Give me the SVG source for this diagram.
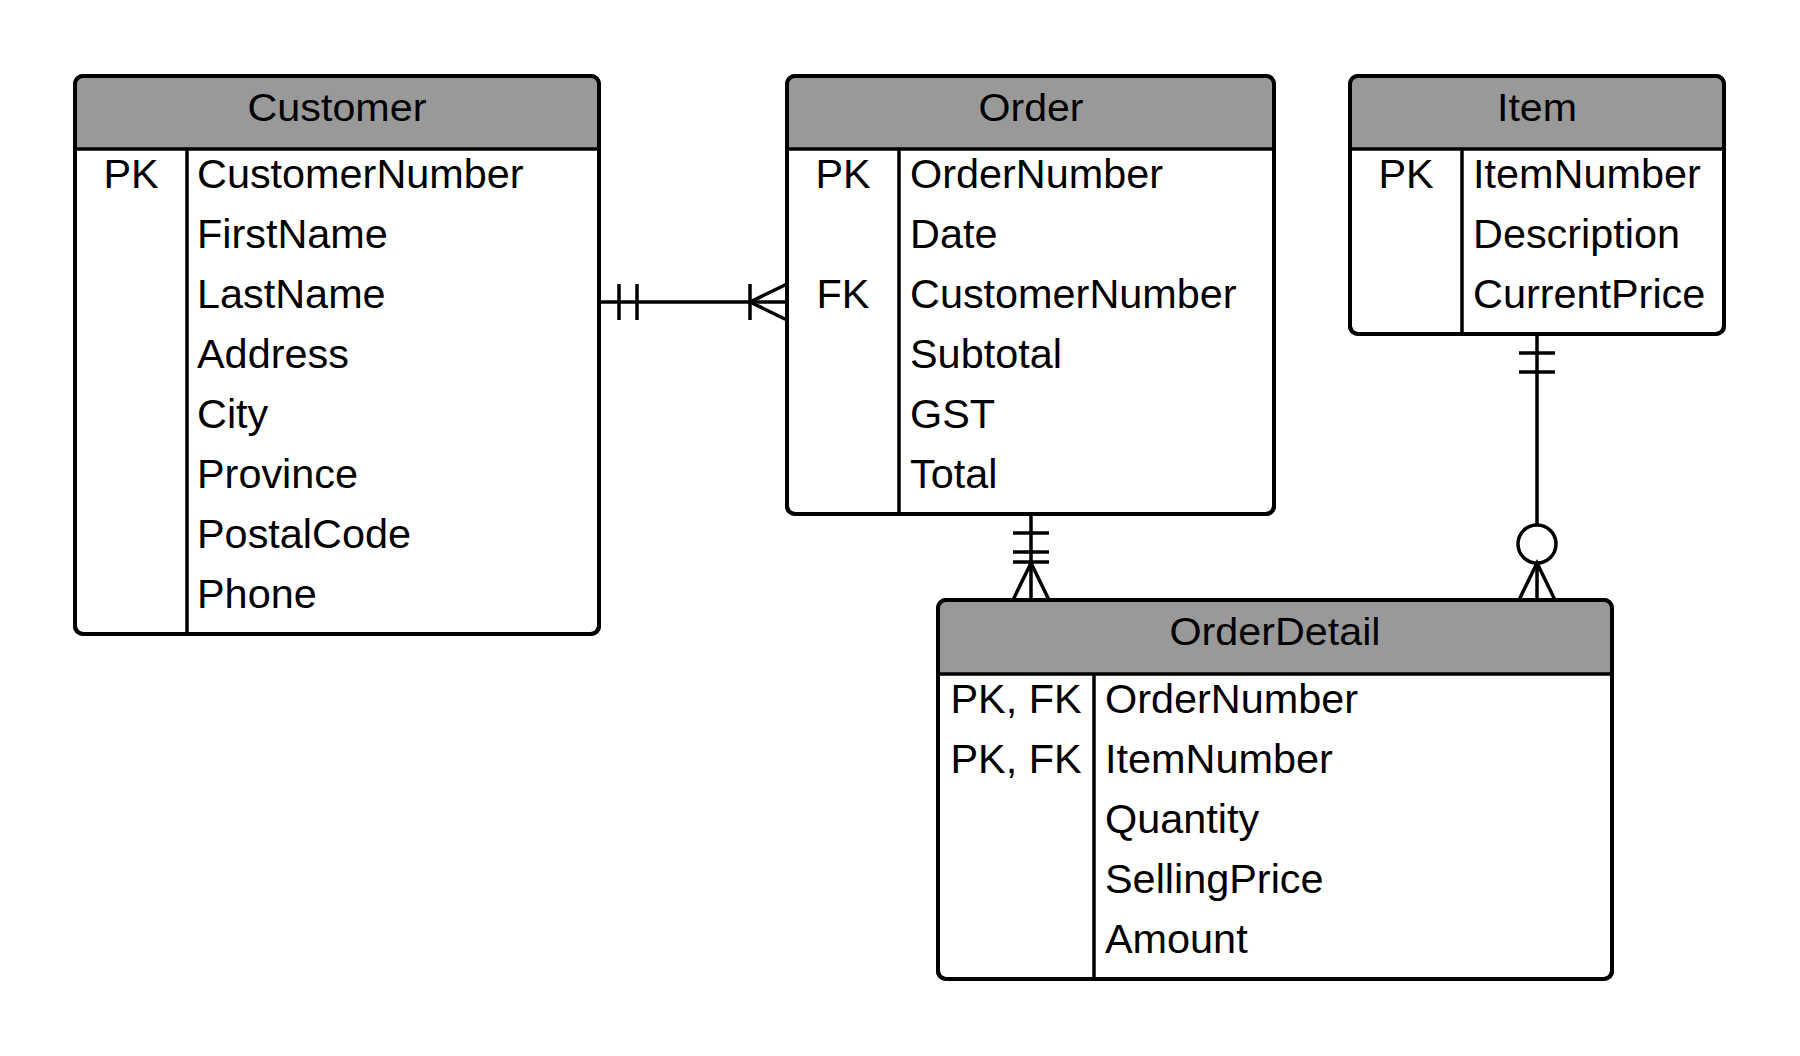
<svg xmlns="http://www.w3.org/2000/svg" width="1800" height="1056" viewBox="0 0 1800 1056">
  <style>
    .box { fill: #ffffff; stroke: #000000; stroke-width: 4; }
    .outline { fill: none; stroke: #000000; stroke-width: 4; }
    .head { fill: #999999; }
    .sep { stroke: #000000; stroke-width: 3.5; fill: none; }
    .title { font-family: "Liberation Sans", Arial, sans-serif; font-size: 38.5px; fill: #000000; text-anchor: middle; }
    .key { font-family: "Liberation Sans", Arial, sans-serif; font-size: 41.4px; fill: #000000; text-anchor: middle; }
    .field { font-family: "Liberation Sans", Arial, sans-serif; font-size: 41.4px; fill: #000000; }
    .conn { stroke: #000000; stroke-width: 3.5; fill: none; }
  </style>

  <rect width="1800" height="1056" fill="#ffffff"/>

  <!-- Customer table -->
  <g id="customer">
    <rect class="box" x="75" y="76" width="524" height="558" rx="8"/>
    <path class="head" d="M75,149 V84 Q75,76 83,76 H591 Q599,76 599,84 V149 Z"/>
    <rect class="outline" x="75" y="76" width="524" height="558" rx="8"/>
    <line class="sep" x1="75" y1="149" x2="599" y2="149"/>
    <line class="sep" x1="187" y1="149" x2="187" y2="634"/>
    <text class="title" x="337" y="121" textLength="179" lengthAdjust="spacingAndGlyphs">Customer</text>
    <text class="key" x="131" y="188">PK</text>
    <text class="field" x="197" y="188">CustomerNumber</text>
    <text class="field" x="197" y="248">FirstName</text>
    <text class="field" x="197" y="308">LastName</text>
    <text class="field" x="197" y="368">Address</text>
    <text class="field" x="197" y="428">City</text>
    <text class="field" x="197" y="488">Province</text>
    <text class="field" x="197" y="548">PostalCode</text>
    <text class="field" x="197" y="608">Phone</text>
  </g>

  <!-- Order table -->
  <g id="order">
    <rect class="box" x="787" y="76" width="487" height="438" rx="8"/>
    <path class="head" d="M787,149 V84 Q787,76 795,76 H1266 Q1274,76 1274,84 V149 Z"/>
    <rect class="outline" x="787" y="76" width="487" height="438" rx="8"/>
    <line class="sep" x1="787" y1="149" x2="1274" y2="149"/>
    <line class="sep" x1="899" y1="149" x2="899" y2="514"/>
    <text class="title" x="1031" y="121" textLength="105" lengthAdjust="spacingAndGlyphs">Order</text>
    <text class="key" x="843" y="188">PK</text>
    <text class="field" x="910" y="188">OrderNumber</text>
    <text class="field" x="910" y="248">Date</text>
    <text class="key" x="843" y="308">FK</text>
    <text class="field" x="910" y="308">CustomerNumber</text>
    <text class="field" x="910" y="368">Subtotal</text>
    <text class="field" x="910" y="428">GST</text>
    <text class="field" x="910" y="488">Total</text>
  </g>

  <!-- Item table -->
  <g id="item">
    <rect class="box" x="1350" y="76" width="374" height="258" rx="8"/>
    <path class="head" d="M1350,149 V84 Q1350,76 1358,76 H1716 Q1724,76 1724,84 V149 Z"/>
    <rect class="outline" x="1350" y="76" width="374" height="258" rx="8"/>
    <line class="sep" x1="1350" y1="149" x2="1724" y2="149"/>
    <line class="sep" x1="1462" y1="149" x2="1462" y2="334"/>
    <text class="title" x="1537" y="121" textLength="80" lengthAdjust="spacingAndGlyphs">Item</text>
    <text class="key" x="1406" y="188">PK</text>
    <text class="field" x="1473" y="188">ItemNumber</text>
    <text class="field" x="1473" y="248">Description</text>
    <text class="field" x="1473" y="308">CurrentPrice</text>
  </g>

  <!-- OrderDetail table -->
  <g id="orderdetail">
    <rect class="box" x="938" y="600" width="674" height="379" rx="8"/>
    <path class="head" d="M938,674 V608 Q938,600 946,600 H1604 Q1612,600 1612,608 V674 Z"/>
    <rect class="outline" x="938" y="600" width="674" height="379" rx="8"/>
    <line class="sep" x1="938" y1="674" x2="1612" y2="674"/>
    <line class="sep" x1="1094" y1="674" x2="1094" y2="979"/>
    <text class="title" x="1275" y="645" textLength="211" lengthAdjust="spacingAndGlyphs">OrderDetail</text>
    <text class="key" x="1016" y="713">PK, FK</text>
    <text class="field" x="1105" y="713">OrderNumber</text>
    <text class="key" x="1016" y="773">PK, FK</text>
    <text class="field" x="1105" y="773">ItemNumber</text>
    <text class="field" x="1105" y="833">Quantity</text>
    <text class="field" x="1105" y="893">SellingPrice</text>
    <text class="field" x="1105" y="953">Amount</text>
  </g>

  <!-- Relationships -->
  <g id="connectors">
    <!-- Customer (one and only one) to Order (one or many) -->
    <g id="customer-order">
      <line class="conn" x1="599" y1="302" x2="787" y2="302"/>
      <line class="conn" x1="619" y1="284" x2="619" y2="320"/>
      <line class="conn" x1="637" y1="284" x2="637" y2="320"/>
      <line class="conn" x1="750" y1="284" x2="750" y2="320"/>
      <path class="conn" d="M787,284 L750,302 L787,320"/>
    </g>
    <!-- Order (one and only one) to OrderDetail (one or many) -->
    <g id="order-orderdetail">
      <line class="conn" x1="1031" y1="514" x2="1031" y2="600"/>
      <line class="conn" x1="1013" y1="533" x2="1049" y2="533"/>
      <line class="conn" x1="1013" y1="552" x2="1049" y2="552"/>
      <line class="conn" x1="1013" y1="562" x2="1049" y2="562"/>
      <path class="conn" d="M1013,600 L1031,563 L1049,600"/>
    </g>
    <!-- Item (one and only one) to OrderDetail (zero or many) -->
    <g id="item-orderdetail">
      <line class="conn" x1="1537" y1="334" x2="1537" y2="525"/>
      <line class="conn" x1="1519" y1="353" x2="1555" y2="353"/>
      <line class="conn" x1="1519" y1="372" x2="1555" y2="372"/>
      <circle class="conn" cx="1537" cy="544" r="19"/>
      <line class="conn" x1="1537" y1="563" x2="1537" y2="600"/>
      <path class="conn" d="M1519,600 L1537,563 L1555,600"/>
    </g>
  </g>
</svg>
